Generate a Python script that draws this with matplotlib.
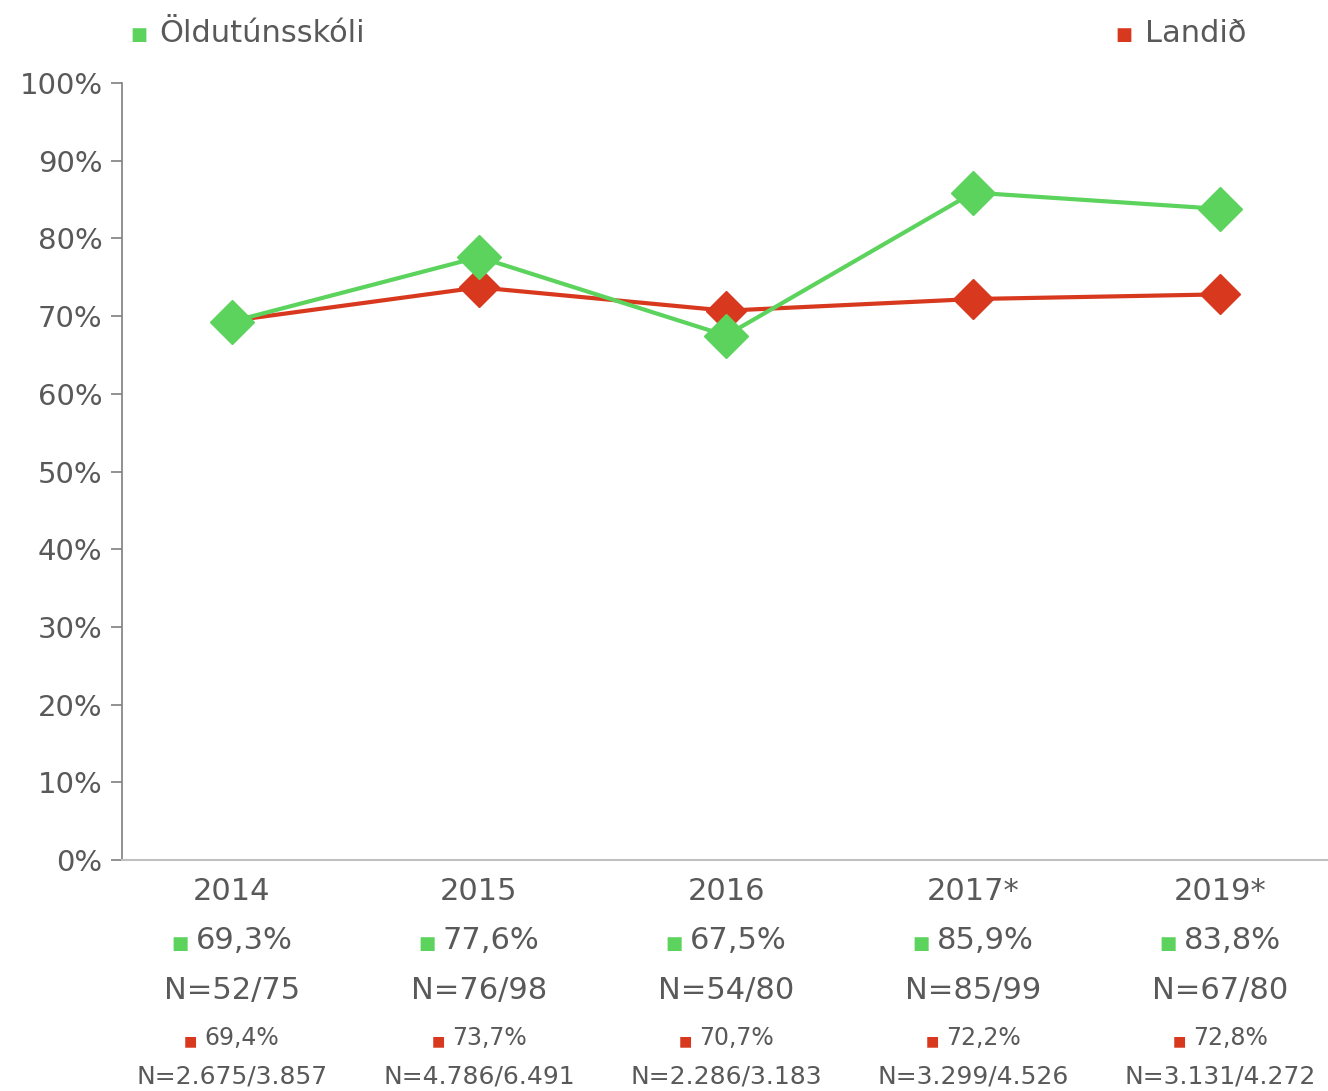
import matplotlib
matplotlib.use("Agg")
import matplotlib.pyplot as plt
from matplotlib.offsetbox import TextArea, HPacker, AnnotationBbox

plt.rcParams['font.family'] = ['DejaVu Sans']

years = ["2014", "2015", "2016", "2017*", "2019*"]
school = [69.3, 77.6, 67.5, 85.9, 83.8]
country = [69.4, 73.7, 70.7, 72.2, 72.8]
school_n = ["N=52/75", "N=76/98", "N=54/80", "N=85/99", "N=67/80"]
country_n = ["N=2.675/3.857", "N=4.786/6.491", "N=2.286/3.183",
             "N=3.299/4.526", "N=3.131/4.272"]
school_name = "Öldutúnsskóli"
country_name = "Landið"

green = "#5cd35c"
red = "#d8381e"
gray = "#595959"

fig = plt.figure(figsize=(13.28, 10.91), dpi=100)
ax = fig.add_axes([0.0919, 0.2117, 0.9096, 0.7122])

x = range(len(years))
ax.plot(x, country, color=red, lw=3, marker="D", ms=20, zorder=3)
ax.plot(x, school, color=green, lw=3, marker="D", ms=22, zorder=4)

ax.set_ylim(0, 100)
ax.set_xlim(-0.444, len(years) - 1 + 0.444)
ax.set_yticks(range(0, 101, 10))
ax.set_yticklabels([f"{v}%" for v in range(0, 101, 10)])
ax.tick_params(axis="y", length=8, width=1.2, color="#7f7f7f",
               labelsize=21, labelcolor=gray, pad=6)
ax.set_xticks(list(x))
ax.set_xticklabels(years)
ax.tick_params(axis="x", length=0, labelsize=22, labelcolor=gray, pad=12)
for s in ["top", "right"]:
    ax.spines[s].set_visible(False)
ax.spines["left"].set_color("#7f7f7f")
ax.spines["left"].set_linewidth(1.2)
ax.spines["bottom"].set_color("#c0c0c0")
ax.spines["bottom"].set_linewidth(1.5)

tr = ax.get_xaxis_transform()


def colored_label(xpos, yoff, color, text, size):
    box = HPacker(children=[
        TextArea("■", textprops=dict(color=color, size=size * 0.6)),
        TextArea(text, textprops=dict(color=gray, size=size)),
    ], align="baseline", pad=0, sep=5)
    ab = AnnotationBbox(box, (xpos, 0), xycoords=tr, xybox=(0, yoff),
                        boxcoords="offset points", frameon=False,
                        box_alignment=(0.5, 0.5), annotation_clip=False)
    ax.add_artist(ab)


def fmt(v):
    return f"{v:.1f}%".replace(".", ",")


for i in x:
    colored_label(i, -58, green, fmt(school[i]), 22)
    ax.annotate(school_n[i], (i, 0), xycoords=tr, xytext=(0, -94),
                textcoords="offset points", ha="center", va="center",
                size=22, color=gray, annotation_clip=False)
    colored_label(i, -128, red, fmt(country[i]), 17)
    ax.annotate(country_n[i], (i, 0), xycoords=tr, xytext=(0, -156),
                textcoords="offset points", ha="center", va="center",
                size=18, color=gray, annotation_clip=False)

# legend
fig.text(0.098, 0.968, "■", color=green, size=13, va="center")
fig.text(0.120, 0.969, school_name, color=gray, size=22, va="center")
fig.text(0.840, 0.968, "■", color=red, size=13, va="center")
fig.text(0.862, 0.969, country_name, color=gray, size=22, va="center")

fig.savefig("out.png", dpi=100, facecolor="white")
